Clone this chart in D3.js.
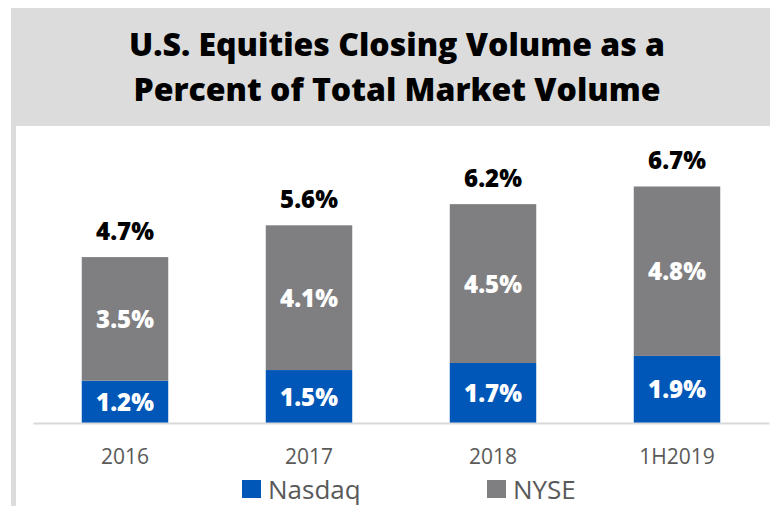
<!DOCTYPE html>
<html>
<head>
<meta charset="utf-8">
<script src="https://cdn.jsdelivr.net/npm/d3@7"></script>
<style>
  body { margin: 0; background: #fff; }
  text { font-family: "Open Sans", sans-serif; }
</style>
</head>
<body>
<div id="chart"></div>
<script>
// chart data
var periods = ["2016", "2017", "2018", "1H2019"];
var nasdaq = [1.2, 1.5, 1.7, 1.9];
var nyse = [3.5, 4.1, 4.5, 4.8];
var totals = [4.7, 5.6, 6.2, 6.7];
var seriesNames = ["Nasdaq", "NYSE"];
var seriesColors = ["#0057b8", "#7f7f82"];

var W = 770, H = 506;
var baseY = 423;

var svg = d3.select("#chart")
  .append("svg")
    .attr("width", W)
    .attr("height", H);

// frame: gray title band and left strip
svg.append("rect")
    .attr("x", 11).attr("y", 8)
    .attr("width", W - 11).attr("height", H - 8)
    .attr("fill", "#dcdcdc");
svg.append("rect")
    .attr("x", 16).attr("y", 126)
    .attr("width", W - 16).attr("height", H - 126)
    .attr("fill", "#fff");

// title
var title = svg.append("text")
    .attr("text-anchor", "middle")
    .attr("font-weight", 800)
    .attr("font-size", "32px")
    .attr("fill", "#000");
title.append("tspan").attr("x", 397).attr("y", 56).text("U.S. Equities Closing Volume as a");
title.append("tspan").attr("x", 397).attr("y", 101).text("Percent of Total Market Volume");

var x = d3.scaleBand()
  .domain(periods)
  .range([33, 769])
  .paddingInner(0.53)
  .paddingOuter(0.265);

var y = d3.scaleLinear()
  .domain([0, 1])
  .range([baseY, baseY - 35.3]);

var rows = periods.map(function(p, i) {
  return {period: p, nasdaq: nasdaq[i], nyse: nyse[i], total: totals[i]};
});
var stacked = d3.stack().keys(["nasdaq", "nyse"])(rows);

// bars
svg.append("g")
  .selectAll("g")
  .data(stacked)
  .enter()
  .append("g")
    .attr("fill", function(d, i) { return seriesColors[i]; })
  .selectAll("rect")
  .data(function(d) { return d; })
  .enter()
  .append("rect")
    .attr("x", function(d) { return x(d.data.period); })
    .attr("width", x.bandwidth())
    .attr("y", function(d) { return y(d[1]); })
    .attr("height", function(d) { return y(d[0]) - y(d[1]); });

// values inside the segments
stacked.forEach(function(layer) {
  svg.append("g")
    .selectAll("text")
    .data(layer)
    .enter()
    .append("text")
      .attr("x", function(d) { return x(d.data.period) + x.bandwidth() / 2; })
      .attr("y", function(d) { return (y(d[0]) + y(d[1])) / 2 + 9; })
      .attr("text-anchor", "middle")
      .attr("font-weight", 800)
      .attr("font-size", "24px")
      .attr("fill", "#fff")
      .text(function(d) { return (d[1] - d[0]).toFixed(1) + "%"; });
});

// totals
svg.append("g")
  .selectAll("text")
  .data(rows)
  .enter()
  .append("text")
    .attr("x", function(d) { return x(d.period) + x.bandwidth() / 2; })
    .attr("y", function(d) { return y(d.total) - 17; })
    .attr("text-anchor", "middle")
    .attr("font-weight", 800)
    .attr("font-size", "24px")
    .attr("fill", "#000")
    .text(function(d) { return d.total.toFixed(1) + "%"; });

// x axis
var xAxis = svg.append("g")
    .attr("transform", "translate(0," + baseY + ")")
    .call(d3.axisBottom(x).tickSize(0).tickPadding(26.5));
xAxis.select(".domain").attr("stroke", "#d9d9d9").attr("stroke-width", 2);
xAxis.selectAll("text")
    .attr("font-family", "'Open Sans', sans-serif")
    .attr("font-size", "21px")
    .attr("fill", "#595959");

// legend
var legendX = [242, 487];
var legend = svg.append("g")
  .selectAll("g")
  .data(seriesNames)
  .enter()
  .append("g")
    .attr("transform", function(d, i) { return "translate(" + legendX[i] + ",480)"; });
legend.append("rect")
    .attr("width", 19).attr("height", 18)
    .attr("fill", function(d, i) { return seriesColors[i]; });
legend.append("text")
    .attr("x", 26).attr("y", 19)
    .attr("font-size", "26px")
    .attr("fill", "#595959")
    .text(function(d) { return d; });
</script>
</body>
</html>
